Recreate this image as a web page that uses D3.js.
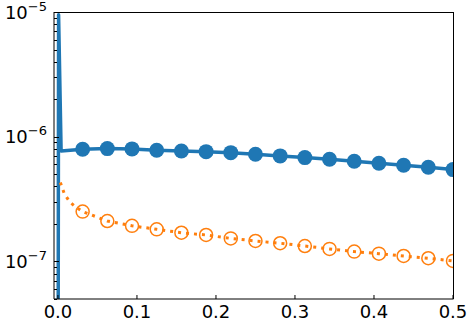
<!DOCTYPE html>
<html lang="en">
<head>
	<meta charset="UTF-8"/>
	<title>Log scale line chart</title>
	<script src="https://d3js.org/d3.v7.min.js"></script>
	<style>
		body { margin: 0; background: #fff; }
		text { font-family: "DejaVu Sans", sans-serif; fill: #000; }
		.tick-line { stroke: #000; stroke-width: 1; }
	</style>
</head>
<body>
	<div id="chart"></div>
	<script>
	var w = 473;
	var h = 326;
	// plot box edges (note: "top" is reserved on window)
	var pLeft = 54, pTop = 12, pRight = 453, pBottom = 299;

	// blue series: spike at start, then marker points at k/32
	var blueX = [0, 0.0008, 0.004, 0.03125, 0.0625, 0.09375, 0.125, 0.15625, 0.1875, 0.21875, 0.25,
				0.28125, 0.3125, 0.34375, 0.375, 0.40625, 0.4375, 0.46875, 0.5];
	var blueY = [1e-9, 9.5e-6, 7.7e-7, 7.94e-7, 8.03e-7, 7.99e-7, 7.80e-7, 7.69e-7, 7.59e-7, 7.45e-7, 7.24e-7,
				7.02e-7, 6.80e-7, 6.60e-7, 6.36e-7, 6.13e-7, 5.91e-7, 5.69e-7, 5.45e-7];
	var blueMarkIdx = d3.range(3, 19);

	// orange series
	var orangeX = [0.003, 0.008, 0.015, 0.022, 0.03125, 0.0625, 0.09375, 0.125, 0.15625, 0.1875, 0.21875, 0.25,
				0.28125, 0.3125, 0.34375, 0.375, 0.40625, 0.4375, 0.46875, 0.5];
	var orangeY = [4.3e-7, 3.5e-7, 3.0e-7, 2.75e-7, 2.51e-7, 2.11e-7, 1.93e-7, 1.81e-7, 1.70e-7, 1.63e-7, 1.53e-7, 1.46e-7,
				1.40e-7, 1.33e-7, 1.26e-7, 1.20e-7, 1.155e-7, 1.107e-7, 1.061e-7, 1.01e-7];
	var orangeMarkIdx = d3.range(4, 20);

	var xTicks = [0, 0.1, 0.2, 0.3, 0.4, 0.5];
	var xTickLabels = ["0.0", "0.1", "0.2", "0.3", "0.4", "0.5"];
	var yTicks = [1e-7, 1e-6, 1e-5];
	var yTickExp = ["\u22127", "\u22126", "\u22125"];

	var xScale = d3.scaleLinear().domain([-0.005, 0.5]).range([pLeft, pRight]);
	var yScale = d3.scaleLog().domain([5e-8, 1e-5]).range([pBottom, pTop]);

	var svg = d3.select("#chart")
				.append("svg")
				.attr("width", w)
				.attr("height", h);

	svg.append("defs").append("clipPath")
		.attr("id", "clip")
		.append("rect")
		.attr("x", pLeft).attr("y", pTop)
		.attr("width", pRight - pLeft).attr("height", pBottom - pTop);

	var plot = svg.append("g").attr("clip-path", "url(#clip)");

	var line = d3.line()
				.x(function(d){ return xScale(d[0]); })
				.y(function(d){ return yScale(d[1]); });

	var blue = "#1f77b4", orange = "#ff7f0e";

	var blueData = d3.zip(blueX, blueY);
	var orangeData = d3.zip(orangeX, orangeY);

	plot.append("path")
		.datum(blueData)
		.attr("d", line)
		.attr("fill", "none")
		.attr("stroke", blue)
		.attr("stroke-width", 3.5)
		.attr("stroke-linejoin", "round");

	plot.selectAll(".bm")
		.data(blueMarkIdx.map(function(i){ return blueData[i]; }))
		.enter()
		.append("circle")
		.attr("cx", function(d){ return xScale(d[0]); })
		.attr("cy", function(d){ return yScale(d[1]); })
		.attr("r", 7.5)
		.attr("fill", blue);

	plot.append("path")
		.datum(orangeData)
		.attr("d", line)
		.attr("fill", "none")
		.attr("stroke", orange)
		.attr("stroke-width", 3)
		.attr("stroke-dasharray", "3,5");

	plot.selectAll(".om")
		.data(orangeMarkIdx.map(function(i){ return orangeData[i]; }))
		.enter()
		.append("circle")
		.attr("cx", function(d){ return xScale(d[0]); })
		.attr("cy", function(d){ return yScale(d[1]); })
		.attr("r", 6.5)
		.attr("fill", "none")
		.attr("stroke", orange)
		.attr("stroke-width", 1.5);

	// spines
	svg.append("line").attr("x1", pLeft).attr("x2", pLeft).attr("y1", pTop).attr("y2", pBottom)
		.attr("stroke", "#000").attr("stroke-width", 1);
	svg.append("line").attr("x1", pLeft).attr("x2", pRight + 0.5).attr("y1", pBottom).attr("y2", pBottom)
		.attr("stroke", "#000").attr("stroke-width", 1);
	svg.append("line").attr("x1", pLeft).attr("x2", pRight + 0.5).attr("y1", pTop + 0.5).attr("y2", pTop + 0.5)
		.attr("stroke", "#000").attr("stroke-width", 1);
	svg.append("line").attr("x1", pRight + 0.5).attr("x2", pRight + 0.5).attr("y1", pTop).attr("y2", pBottom)
		.attr("stroke", "#000").attr("stroke-width", 1);

	// x ticks (inward)
	var xg = svg.append("g");
	xg.selectAll("line")
		.data(xTicks)
		.enter()
		.append("line")
		.attr("class", "tick-line")
		.attr("x1", function(d){ return xScale(d); })
		.attr("x2", function(d){ return xScale(d); })
		.attr("y1", pBottom)
		.attr("y2", pBottom - 4);
	xg.selectAll("text")
		.data(xTicks)
		.enter()
		.append("text")
		.attr("x", function(d){ return xScale(d); })
		.attr("y", 318)
		.attr("text-anchor", "middle")
		.style("font-size", "18px")
		.text(function(d, i){ return xTickLabels[i]; });

	// y ticks
	var minor = [];
	[1e-8, 1e-7, 1e-6].forEach(function(dec){
		for (var k = 2; k <= 9; k++) {
			var v = k * dec;
			if (v >= 5e-8 && v <= 1e-5) minor.push(v);
		}
	});
	var yg = svg.append("g");
	yg.selectAll(".minor")
		.data(minor)
		.enter()
		.append("line")
		.attr("class", "tick-line")
		.attr("x1", pLeft)
		.attr("x2", pLeft + 3)
		.attr("y1", function(d){ return Math.round(yScale(d)) + 0.5; })
		.attr("y2", function(d){ return Math.round(yScale(d)) + 0.5; });
	yg.selectAll(".major")
		.data(yTicks)
		.enter()
		.append("line")
		.attr("class", "tick-line")
		.attr("x1", pLeft)
		.attr("x2", pLeft + 5)
		.attr("y1", function(d){ return Math.round(yScale(d)) + 0.5; })
		.attr("y2", function(d){ return Math.round(yScale(d)) + 0.5; });

	var labels = yg.selectAll(".lab")
		.data(yTicks)
		.enter()
		.append("text")
		.attr("x", pLeft - 7)
		.attr("y", function(d){ return yScale(d) + 6.5; })
		.attr("text-anchor", "end")
		.style("font-size", "18px");
	labels.append("tspan").text("10");
	labels.append("tspan")
		.attr("dy", -8)
		.style("font-size", "13px")
		.text(function(d, i){ return yTickExp[i]; });
	</script>
</body>
</html>
